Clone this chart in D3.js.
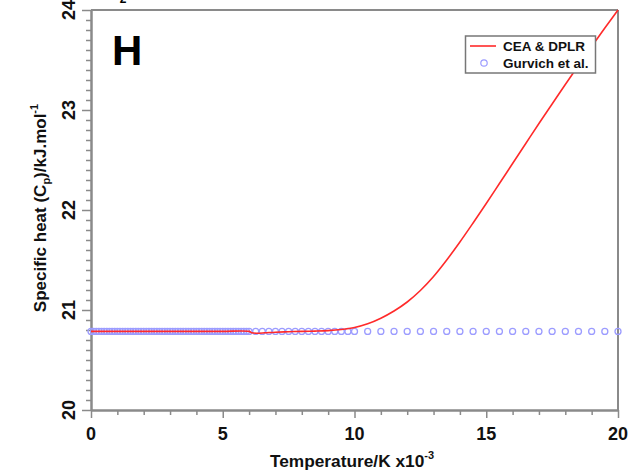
<!DOCTYPE html>
<html>
<head>
<meta charset="utf-8">
<script src="https://cdn.jsdelivr.net/npm/d3@7"></script>
<style>
  html, body { margin: 0; padding: 0; background: #fff; }
  svg { display: block; font-family: "Liberation Sans", Arial, sans-serif; font-weight: bold; }
</style>
</head>
<body>
<svg id="chart" width="629" height="471"></svg>
<script>
// Temperature axis (K x 10^-3) and specific heat (kJ/mol) data
const gurvichT = [
  0.0, 0.1, 0.2, 0.3, 0.4, 0.5, 0.6, 0.7, 0.8, 0.9,
  1.0, 1.1, 1.2, 1.3, 1.4, 1.5, 1.6, 1.7, 1.8, 1.9,
  2.0, 2.1, 2.2, 2.3, 2.4, 2.5, 2.6, 2.7, 2.8, 2.9,
  3.0, 3.1, 3.2, 3.3, 3.4, 3.5, 3.6, 3.7, 3.8, 3.9,
  4.0, 4.1, 4.2, 4.3, 4.4, 4.5, 4.6, 4.7, 4.8, 4.9,
  5.0, 5.1, 5.2, 5.3, 5.4, 5.5, 5.6, 5.7, 5.8, 5.9, 6.0,
  6.25, 6.5, 6.75, 7.0, 7.25, 7.5, 7.75, 8.0, 8.25, 8.5, 8.75, 9.0, 9.25, 9.5, 9.75, 10.0,
  10.5, 11.0, 11.5, 12.0, 12.5, 13.0, 13.5, 14.0, 14.5, 15.0,
  15.5, 16.0, 16.5, 17.0, 17.5, 18.0, 18.5, 19.0, 19.5, 20.0
];
const gurvichCp = [
  20.786, 20.786, 20.786, 20.786, 20.786, 20.786, 20.786, 20.786, 20.786, 20.786,
  20.786, 20.786, 20.786, 20.786, 20.786, 20.786, 20.786, 20.786, 20.786, 20.786,
  20.786, 20.786, 20.786, 20.786, 20.786, 20.786, 20.786, 20.786, 20.786, 20.786,
  20.786, 20.786, 20.786, 20.786, 20.786, 20.786, 20.786, 20.786, 20.786, 20.786,
  20.786, 20.786, 20.786, 20.786, 20.786, 20.786, 20.786, 20.786, 20.786, 20.786,
  20.786, 20.786, 20.786, 20.786, 20.786, 20.786, 20.786, 20.786, 20.786, 20.786, 20.786,
  20.786, 20.786, 20.786, 20.786, 20.786, 20.786, 20.786, 20.786, 20.786, 20.786, 20.786, 20.786, 20.786, 20.786, 20.786, 20.786,
  20.786, 20.786, 20.786, 20.786, 20.786, 20.786, 20.786, 20.786, 20.786, 20.786,
  20.786, 20.786, 20.786, 20.786, 20.786, 20.786, 20.786, 20.786, 20.786, 20.786
];
const ceaT = [0, 1, 2, 3, 4, 5, 6.0, 6.1, 6.3, 6.6, 7.0, 7.5, 8.0, 8.5, 9.0, 9.5, 10.0, 10.5, 11.0, 11.5, 12.0, 12.5, 13.0, 13.5, 14.0, 14.5, 15.0, 15.5, 16.0, 16.5, 17.0, 17.5, 18.0, 18.5, 19.0, 19.5, 20.0];
const ceaCp = [20.786, 20.786, 20.786, 20.786, 20.786, 20.786, 20.786, 20.772, 20.768, 20.772, 20.778, 20.783, 20.786, 20.789, 20.794, 20.805, 20.825, 20.862, 20.918, 20.99, 21.08, 21.195, 21.335, 21.50, 21.68, 21.87, 22.065, 22.265, 22.465, 22.665, 22.865, 23.06, 23.255, 23.445, 23.635, 23.82, 24.0];

const xMajor = [0, 5, 10, 15, 20];
const xMinor = [1, 2, 3, 4, 6, 7, 8, 9, 11, 12, 13, 14, 16, 17, 18, 19];
const yMajor = [20, 21, 22, 23, 24];
const legendLabels = ["CEA & DPLR", "Gurvich et al."];

const svg = d3.select("#chart");
const x = d3.scaleLinear().domain([0, 20]).range([91, 618]);
const y = d3.scaleLinear().domain([20, 24]).range([410, 10]);
const axisColor = "#8a8a8a";

// frame: top and right borders
svg.append("line").attr("x1", x(0)).attr("x2", x(20)).attr("y1", y(24)).attr("y2", y(24))
  .attr("stroke", axisColor).attr("stroke-width", 2);
svg.append("line").attr("x1", x(20)).attr("x2", x(20)).attr("y1", y(24)).attr("y2", y(20))
  .attr("stroke", axisColor).attr("stroke-width", 2);

// minor y ticks every 0.1
const yMinor = d3.range(200, 241).map(v => v / 10).filter(v => !yMajor.includes(v));

function styleAxis(g) {
  g.select(".domain").attr("stroke", axisColor).attr("stroke-width", 2);
  g.selectAll(".tick line").attr("stroke", axisColor).attr("stroke-width", 1.5);
  g.selectAll("text").remove();
}

svg.append("g").attr("transform", `translate(${x(0)},0)`)
  .call(d3.axisLeft(y).tickValues(yMinor).tickSize(5).tickSizeOuter(0)).call(styleAxis);
svg.append("g").attr("transform", `translate(${x(0)},0)`)
  .call(d3.axisLeft(y).tickValues(yMajor).tickSize(9).tickSizeOuter(0)).call(styleAxis);
svg.append("g").attr("transform", `translate(0,${y(20)})`)
  .call(d3.axisBottom(x).tickValues(xMinor).tickSize(5).tickSizeOuter(0)).call(styleAxis);
svg.append("g").attr("transform", `translate(0,${y(20)})`)
  .call(d3.axisBottom(x).tickValues(xMajor).tickSize(8).tickSizeOuter(0)).call(styleAxis);

// tick labels
svg.append("g").selectAll("text").data(xMajor).join("text")
  .attr("x", d => x(d)).attr("y", 440).attr("text-anchor", "middle")
  .attr("font-size", 18).attr("fill", "#111").text(d => d);
svg.append("g").selectAll("text").data(yMajor).join("text")
  .attr("transform", d => `translate(75,${y(d)}) rotate(-90)`)
  .attr("text-anchor", "middle").attr("font-size", 18).attr("fill", "#111").text(d => d);

// axis titles
const xt = svg.append("text").attr("x", 352).attr("y", 467).attr("text-anchor", "middle")
  .attr("font-size", 17.3).attr("fill", "#111");
xt.append("tspan").text("Temperature/K x10");
xt.append("tspan").attr("dy", -8).attr("font-size", 11).text("-3");

const yt = svg.append("text").attr("transform", "translate(46,208) rotate(-90)")
  .attr("text-anchor", "middle").attr("font-size", 17).attr("fill", "#111");
yt.append("tspan").text("Specific heat (C");
yt.append("tspan").attr("dy", 4).attr("font-size", 11).text("p");
yt.append("tspan").attr("dy", -4).text(")/kJ.mol");
yt.append("tspan").attr("dy", -8).attr("font-size", 11).text("-1");

// panel letter and the clipped subscript of the title above
svg.append("text").attr("x", 112).attr("y", 65).attr("font-size", 42).attr("fill", "#000").text("H");
svg.append("text").attr("x", 123).attr("y", 3).attr("text-anchor", "middle")
  .attr("font-size", 12).attr("fill", "#000").text("2");

// Gurvich et al. points
svg.append("g").selectAll("circle").data(gurvichT).join("circle")
  .attr("cx", (d) => x(d)).attr("cy", (d, i) => y(gurvichCp[i])).attr("r", 3)
  .attr("fill", "none").attr("stroke", "#9c9cff").attr("stroke-width", 1.3);

// CEA & DPLR curve
const line = d3.line().x(d => x(d[0])).y(d => y(d[1])).curve(d3.curveCatmullRom.alpha(0.5));
svg.append("path").datum(ceaT.map((t, i) => [t, ceaCp[i]])).attr("d", line)
  .attr("fill", "none").attr("stroke", "#ff2a2a").attr("stroke-width", 1.6);

// legend
const lg = svg.append("g");
lg.append("rect").attr("x", 465.5).attr("y", 36).attr("width", 130).attr("height", 37)
  .attr("fill", "#fff").attr("stroke", "#777").attr("stroke-width", 1.5);
lg.append("line").attr("x1", 470).attr("x2", 496).attr("y1", 46).attr("y2", 46)
  .attr("stroke", "#ff2a2a").attr("stroke-width", 1.6);
lg.append("circle").attr("cx", 484).attr("cy", 63).attr("r", 3.2)
  .attr("fill", "none").attr("stroke", "#9c9cff").attr("stroke-width", 1.2);
lg.selectAll("text").data(legendLabels).join("text")
  .attr("x", 503).attr("y", (d, i) => 51 + i * 17).attr("font-size", 13.5).attr("fill", "#111")
  .text(d => d);
</script>
</body>
</html>
